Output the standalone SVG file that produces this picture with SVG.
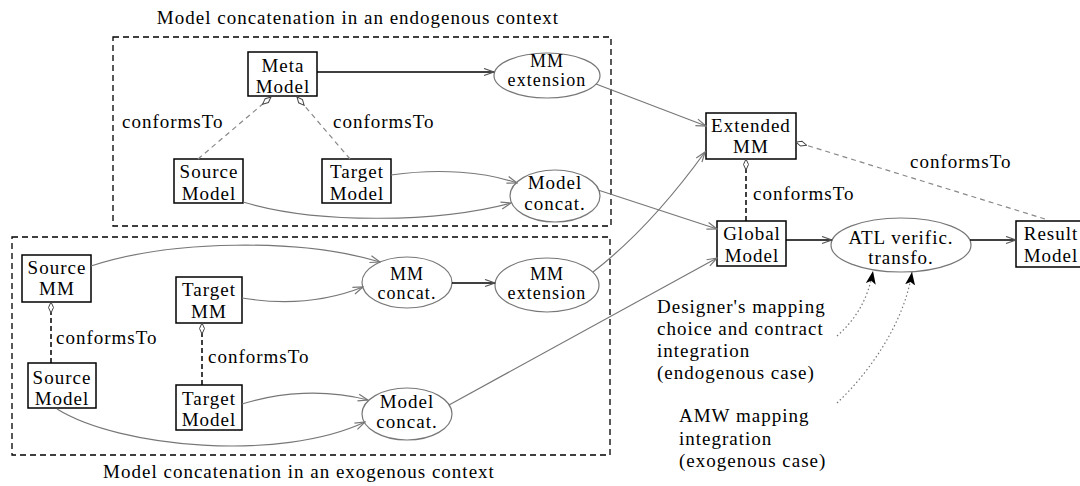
<svg xmlns="http://www.w3.org/2000/svg" width="1080" height="486" viewBox="0 0 1080 486">
<defs>
<style>
.t{font-family:"Liberation Serif","Times New Roman",serif;font-size:19px;letter-spacing:1px;fill:#000}
.s{font-size:18px;letter-spacing:1.1px}
.c{text-anchor:middle}
.box{fill:#fff;stroke:#000;stroke-width:1.5}
.ell{fill:#fff;stroke:#777;stroke-width:1.2}
.frame{fill:none;stroke:#000;stroke-width:1.3;stroke-dasharray:6 4}
.e{fill:none;stroke:#777;stroke-width:1.2;marker-end:url(#ao)}
.eb{fill:none;stroke:#000;stroke-width:1.5;marker-end:url(#aob)}
.cf{fill:none;stroke:#888;stroke-width:1.2;stroke-dasharray:5 4;marker-end:url(#dia)}
.cfb{fill:none;stroke:#000;stroke-width:1.5;stroke-dasharray:5 3;marker-end:url(#dia)}
.dot{fill:none;stroke:#777;stroke-width:1.2;stroke-dasharray:1.5 2.5;marker-end:url(#af)}
</style>
<marker id="ao" markerUnits="userSpaceOnUse" markerWidth="12" markerHeight="10" refX="11" refY="4.5" orient="auto"><path d="M1,1 L11,4.5 L1,8" fill="none" stroke="#777" stroke-width="1.2"/></marker>
<marker id="aob" markerUnits="userSpaceOnUse" markerWidth="12" markerHeight="10" refX="11" refY="4.5" orient="auto"><path d="M1,1 L11,4.5 L1,8" fill="none" stroke="#555" stroke-width="1.2"/></marker>
<marker id="dia" markerUnits="userSpaceOnUse" markerWidth="14" markerHeight="8" refX="12" refY="3.5" orient="auto"><path d="M1,3.5 L6.5,1 L12,3.5 L6.5,6 Z" fill="#fff" stroke="#444" stroke-width="1"/></marker>
<marker id="af" markerUnits="userSpaceOnUse" markerWidth="14" markerHeight="12" refX="13" refY="5" orient="auto"><path d="M0,0 L13,5 L0,10 L3,5 Z" fill="#000"/></marker>
</defs>
<rect width="1080" height="486" fill="#fff"/>

<g id="frames">
<rect class="frame" x="113" y="37" width="498" height="189"/>
<rect class="frame" x="12" y="237" width="598" height="218"/>
<text class="t c" x="358" y="24">Model concatenation in an endogenous context</text>
<text class="t c" x="299" y="478">Model concatenation in an exogenous context</text>
</g>

<g id="meta-model"><rect class="box" x="248" y="52" width="69" height="44"/><text class="t c" x="283" y="72">Meta</text><text class="t c" x="283" y="93">Model</text></g>
<g id="mm-extension-endo"><ellipse class="ell" cx="547" cy="75.5" rx="53" ry="22.5"/><text class="t s c" x="547" y="67">MM</text><text class="t s c" x="547" y="86">extension</text></g>
<g id="source-model-endo"><rect class="box" x="174" y="159" width="69" height="44"/><text class="t c" x="209" y="178">Source</text><text class="t c" x="209" y="200">Model</text></g>
<g id="target-model-endo"><rect class="box" x="322" y="159" width="69" height="44"/><text class="t c" x="357" y="178">Target</text><text class="t c" x="357" y="200">Model</text></g>
<g id="model-concat-endo"><ellipse class="ell" cx="555" cy="196" rx="45" ry="26"/><text class="t c" x="555" y="189">Model</text><text class="t c" x="555" y="210">concat.</text></g>

<g id="source-mm"><rect class="box" x="22" y="255" width="69" height="47"/><text class="t c" x="57" y="274">Source</text><text class="t c" x="57" y="295">MM</text></g>
<g id="target-mm"><rect class="box" x="176" y="277" width="66" height="46"/><text class="t c" x="209" y="296">Target</text><text class="t c" x="209" y="318">MM</text></g>
<g id="source-model-exo"><rect class="box" x="28" y="363" width="68" height="45"/><text class="t c" x="62" y="384">Source</text><text class="t c" x="62" y="405">Model</text></g>
<g id="target-model-exo"><rect class="box" x="176" y="385" width="66" height="45"/><text class="t c" x="209" y="405">Target</text><text class="t c" x="209" y="426">Model</text></g>
<g id="mm-concat"><ellipse class="ell" cx="407" cy="282.5" rx="45" ry="25.5"/><text class="t s c" x="407" y="280">MM</text><text class="t s c" x="407" y="299">concat.</text></g>
<g id="mm-extension-exo"><ellipse class="ell" cx="547" cy="285" rx="52" ry="27"/><text class="t s c" x="547" y="280">MM</text><text class="t s c" x="547" y="299">extension</text></g>
<g id="model-concat-exo"><ellipse class="ell" cx="407" cy="414" rx="45" ry="26"/><text class="t c" x="407" y="408">Model</text><text class="t c" x="407" y="428">concat.</text></g>

<g id="extended-mm"><rect class="box" x="706" y="113" width="90" height="46"/><text class="t c" x="751" y="132">Extended</text><text class="t c" x="751" y="153">MM</text></g>
<g id="global-model"><rect class="box" x="717" y="221" width="69" height="45"/><text class="t c" x="752" y="240">Global</text><text class="t c" x="752" y="262">Model</text></g>
<g id="atl"><ellipse class="ell" cx="901" cy="245" rx="70" ry="27"/><text class="t c" x="901" y="244">ATL verific.</text><text class="t c" x="901" y="264">transfo.</text></g>
<g id="result-model"><rect class="box" x="1016" y="221" width="70" height="46"/><text class="t c" x="1051" y="240">Result</text><text class="t c" x="1051" y="262">Model</text></g>

<g id="notes">
<text class="t" x="657" y="313">Designer's mapping</text>
<text class="t" x="657" y="335">choice and contract</text>
<text class="t" x="657" y="357">integration</text>
<text class="t" x="657" y="379">(endogenous case)</text>
<text class="t" x="679" y="422">AMW mapping</text>
<text class="t" x="679" y="445">integration</text>
<text class="t" x="679" y="467">(exogenous case)</text>
</g>

<g id="connectors">
<path class="eb" d="M317,72 L494,72"/>
<path class="e" d="M391,175 C440,168 485,172 517,183"/>
<path class="e" d="M243,202 C320,225 440,222 511,203"/>
<path class="cf" d="M198,159 L271,97"/>
<path class="cf" d="M350,159 L297,97"/>
<text class="t" x="122" y="128">conformsTo</text>
<text class="t" x="333" y="128">conformsTo</text>

<path class="e" d="M91,266 C170,240 300,238 380,262"/>
<path class="e" d="M242,298 C290,306 330,300 363,287"/>
<path class="eb" d="M452,283 L495,283"/>
<path class="e" d="M242,404 C280,392 325,389 368,400"/>
<path class="e" d="M57,409 C120,448 280,462 365,422"/>
<path class="cfb" d="M51,363 L51,302"/>
<path class="cfb" d="M202,385 L202,323"/>
<text class="t" x="56" y="344">conformsTo</text>
<text class="t" x="208" y="363">conformsTo</text>

<path class="e" d="M596,84 L706,126"/>
<path class="e" d="M593,272 Q650,228 705,152"/>
<path class="e" d="M598,190 L717,229"/>
<path class="e" d="M449,405 L717,258"/>
<path class="cfb" d="M746,221 L746,159"/>
<path class="cf" d="M1045,219 L796,142"/>
<text class="t" x="753" y="200">conformsTo</text>
<text class="t" x="910" y="168">conformsTo</text>
<path class="eb" d="M786,240 L832,240"/>
<path class="eb" d="M970,240 L1016,240"/>
<path class="dot" d="M837,336 C855,320 868,300 873,271"/>
<path class="dot" d="M837,403 C872,370 905,320 912,272"/>
</g>
</svg>
